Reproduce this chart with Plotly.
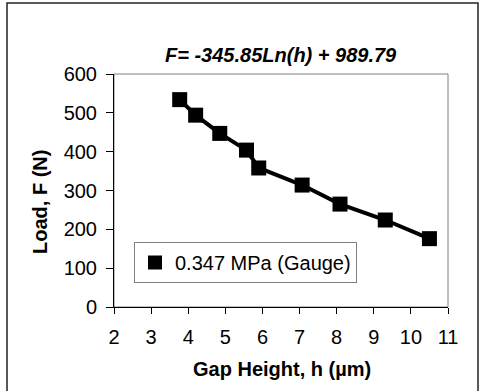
import plotly.graph_objects as go

gap_h = [3.77, 4.20, 4.85, 5.57, 5.90, 7.07, 8.09, 9.31, 10.50]
load_f = [534, 494, 447, 404, 358, 314, 265, 224, 176]
series_name = "0.347 MPa (Gauge)"
title_text = "F= -345.85Ln(h) + 989.79"
x_title = "Gap Height, h (\u00b5m)"
y_title = "Load, F (N)"

FONT = "Liberation Sans, Arial, sans-serif"

fig = go.Figure()
fig.add_trace(go.Scatter(
    x=gap_h, y=load_f, mode="lines+markers",
    line=dict(color="black", width=4),
    marker=dict(symbol="square", size=15, color="black"),
    showlegend=False, hoverinfo="x+y",
))
fig.add_trace(go.Scatter(
    x=[None], y=[None], mode="markers", name=series_name,
    marker=dict(symbol="square", size=14, color="black"),
    showlegend=True,
))

L, R, T, B = 114, 31, 74, 84
W, H = 479, 391
pw = W - L - R
ph = H - T - B

def px2paper_x(px):
    return (px - L) / pw

def px2paper_y(py):
    return (H - B - py) / ph

fig.update_layout(
    width=W, height=H,
    margin=dict(l=L, r=R, t=T, b=B, pad=0),
    paper_bgcolor="white", plot_bgcolor="white",
    font=dict(family=FONT, size=20, color="black"),
    xaxis=dict(range=[2, 11], dtick=1, tick0=2, showgrid=False, zeroline=False,
               showline=True, linecolor="black", linewidth=1,
               ticks="outside", ticklen=6, tickcolor="black",
               ticklabelstandoff=6,
               tickfont=dict(size=20, family=FONT)),
    yaxis=dict(range=[0, 600], dtick=100, showgrid=False, zeroline=False,
               showline=True, linecolor="black", linewidth=1,
               ticks="outside", ticklen=7, tickcolor="black",
               ticklabelstandoff=5,
               tickfont=dict(size=20, family=FONT)),
    legend=dict(x=px2paper_x(134), y=px2paper_y(242), xanchor="left", yanchor="top",
                bgcolor="white", bordercolor="#808080", borderwidth=1,
                font=dict(size=20, family=FONT), itemwidth=30,
                tracegroupgap=0),
    showlegend=True,
    shapes=[
        dict(type="rect", xref="paper", yref="paper", x0=0, x1=1, y0=0, y1=1,
             line=dict(color="#808080", width=1), layer="below"),
        dict(type="rect", xref="paper", yref="paper",
             x0=px2paper_x(7), x1=px2paper_x(478),
             y0=px2paper_y(398), y1=px2paper_y(3),
             line=dict(color="#222222", width=1.5), layer="below"),
    ],
    annotations=[
        dict(text="<b><i>" + title_text + "</i></b>", xref="paper", yref="paper",
             x=px2paper_x(281), y=px2paper_y(55), xanchor="center", yanchor="middle",
             showarrow=False, font=dict(size=20, family=FONT)),
        dict(text="<b>" + x_title + "</b>", xref="paper", yref="paper",
             x=px2paper_x(282), y=px2paper_y(369), xanchor="center", yanchor="middle",
             showarrow=False, font=dict(size=20, family=FONT)),
        dict(text="<b>" + y_title + "</b>", xref="paper", yref="paper",
             x=px2paper_x(40), y=px2paper_y(202), xanchor="center", yanchor="middle",
             textangle=-90, showarrow=False, font=dict(size=20, family=FONT)),
    ],
)

fig.write_html("out.html", config={"displayModeBar": False},
               post_script="document.body.style.margin='0';document.body.style.overflow='hidden';")
